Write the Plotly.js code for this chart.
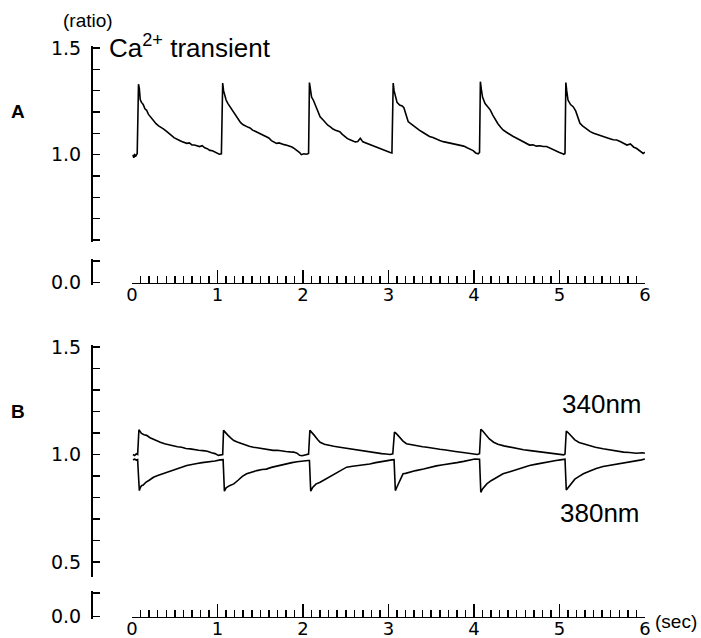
<!DOCTYPE html>
<html>
<head>
<meta charset="utf-8">
<script src="https://cdn.plot.ly/plotly-3.0.1.min.js"></script>
<style>html,body{margin:0;padding:0;background:#fff;}#chart{width:701px;height:638px;}</style>
</head>
<body>
<div id="chart"></div>
<script>
// Panel A: Ca2+ transient (ratio)
const tA = [0.01,0.02,0.03,0.045,0.06,0.075,0.085,0.095,0.11,0.13,0.15,0.17,0.19,0.21,0.23,0.25,0.28,0.31,0.34,0.37,0.40,0.43,0.46,0.49,0.52,0.55,0.58,0.61,0.64,0.67,0.70,0.73,0.76,0.79,0.82,0.85,0.88,0.91,0.94,0.97,1.00,1.02,1.045,
 1.06,1.07,1.085,1.10,1.12,1.14,1.16,1.19,1.22,1.25,1.27,1.30,1.33,1.36,1.38,1.41,1.44,1.47,1.50,1.53,1.57,1.60,1.63,1.66,1.69,1.72,1.75,1.78,1.81,1.84,1.87,1.90,1.93,1.96,1.98,2.01,2.04,2.065,
 2.075,2.085,2.10,2.12,2.14,2.17,2.20,2.23,2.26,2.29,2.32,2.35,2.38,2.41,2.43,2.46,2.49,2.52,2.55,2.58,2.61,2.64,2.67,2.70,2.73,2.76,2.79,2.82,2.85,2.88,2.91,2.94,2.97,3.00,3.02,3.04,
 3.055,3.065,3.08,3.10,3.13,3.16,3.18,3.20,3.23,3.26,3.30,3.33,3.36,3.40,3.44,3.48,3.52,3.56,3.60,3.64,3.68,3.72,3.76,3.80,3.84,3.88,3.92,3.96,3.99,4.02,4.05,4.065,
 4.075,4.085,4.10,4.13,4.16,4.19,4.22,4.25,4.28,4.31,4.34,4.38,4.42,4.46,4.50,4.54,4.58,4.62,4.65,4.69,4.73,4.77,4.81,4.85,4.89,4.93,4.97,5.00,5.03,5.05,5.065,
 5.075,5.085,5.10,5.13,5.16,5.19,5.22,5.24,5.27,5.30,5.33,5.36,5.40,5.44,5.48,5.51,5.55,5.59,5.63,5.67,5.71,5.75,5.79,5.83,5.87,5.90,5.94,5.98,6.00];
const ratioA = [1.000,0.985,1.000,0.995,1.005,1.330,1.310,1.258,1.245,1.235,1.215,1.208,1.190,1.180,1.165,1.160,1.145,1.135,1.128,1.120,1.110,1.098,1.090,1.080,1.072,1.068,1.062,1.058,1.053,1.055,1.046,1.045,1.040,1.038,1.042,1.032,1.028,1.020,1.018,1.012,1.006,1.002,1.004,
 1.336,1.300,1.270,1.256,1.240,1.228,1.210,1.195,1.180,1.158,1.150,1.140,1.132,1.128,1.125,1.115,1.110,1.104,1.100,1.092,1.085,1.078,1.066,1.060,1.053,1.055,1.050,1.047,1.044,1.040,1.036,1.028,1.020,1.010,1.000,1.004,1.002,1.006,
 1.338,1.310,1.270,1.256,1.235,1.200,1.178,1.165,1.150,1.138,1.130,1.120,1.115,1.110,1.108,1.095,1.085,1.075,1.070,1.066,1.060,1.062,1.077,1.060,1.055,1.050,1.045,1.040,1.038,1.032,1.028,1.022,1.018,1.012,1.010,1.008,
 1.336,1.300,1.270,1.245,1.233,1.228,1.220,1.190,1.155,1.145,1.132,1.124,1.115,1.105,1.095,1.085,1.080,1.072,1.066,1.061,1.058,1.054,1.050,1.048,1.045,1.040,1.032,1.025,1.019,1.008,1.004,1.010,
 1.342,1.310,1.270,1.240,1.225,1.210,1.185,1.163,1.145,1.130,1.116,1.105,1.094,1.085,1.077,1.068,1.060,1.052,1.045,1.046,1.040,1.042,1.038,1.038,1.030,1.022,1.014,1.010,1.006,1.002,1.005,
 1.338,1.300,1.256,1.235,1.225,1.205,1.170,1.147,1.135,1.125,1.115,1.108,1.100,1.094,1.088,1.085,1.080,1.075,1.070,1.069,1.062,1.052,1.045,1.050,1.035,1.030,1.020,1.006,1.012];

// Panel B: 340 nm and 380 nm fluorescence
const t340 = [0.01,0.03,0.05,0.065,0.08,0.09,0.11,0.14,0.17,0.21,0.25,0.29,0.33,0.38,0.43,0.48,0.53,0.58,0.63,0.68,0.73,0.78,0.83,0.88,0.93,0.97,1.01,1.04,1.06,
 1.07,1.09,1.12,1.16,1.19,1.23,1.27,1.32,1.37,1.42,1.47,1.52,1.58,1.65,1.70,1.75,1.80,1.85,1.89,1.93,1.96,1.99,2.03,2.065,
 2.08,2.10,2.13,2.17,2.20,2.25,2.30,2.36,2.43,2.49,2.55,2.62,2.70,2.78,2.85,2.92,2.97,3.02,3.05,
 3.07,3.09,3.13,3.17,3.21,3.27,3.33,3.40,3.45,3.52,3.60,3.67,3.72,3.78,3.85,3.92,3.99,4.04,4.065,
 4.08,4.10,4.14,4.18,4.23,4.28,4.35,4.42,4.50,4.58,4.66,4.74,4.81,4.88,4.95,5.02,5.05,5.065,
 5.08,5.10,5.14,5.18,5.23,5.28,5.34,5.42,5.51,5.58,5.66,5.75,5.82,5.90,5.97,6.00];
const f340 = [1.000,0.995,1.003,1.000,1.115,1.110,1.098,1.092,1.089,1.078,1.070,1.062,1.057,1.050,1.045,1.040,1.036,1.034,1.028,1.026,1.022,1.020,1.018,1.015,1.008,1.004,0.996,0.997,1.000,
 1.112,1.105,1.090,1.075,1.065,1.058,1.052,1.045,1.038,1.034,1.030,1.026,1.022,1.019,1.020,1.016,1.014,1.012,1.011,1.006,0.996,0.994,1.000,1.002,
 1.112,1.104,1.090,1.070,1.057,1.048,1.042,1.038,1.034,1.030,1.027,1.022,1.016,1.011,1.008,1.004,1.002,1.000,1.003,
 1.104,1.098,1.080,1.062,1.050,1.045,1.040,1.036,1.034,1.028,1.024,1.021,1.019,1.014,1.010,1.006,1.003,1.000,1.004,
 1.117,1.110,1.092,1.072,1.057,1.048,1.040,1.034,1.027,1.022,1.018,1.014,1.011,1.008,1.004,1.000,0.998,1.002,
 1.109,1.102,1.085,1.068,1.056,1.050,1.042,1.034,1.027,1.022,1.016,1.011,1.009,1.006,1.008,1.006];

const t380 = [0.01,0.03,0.05,0.065,0.075,0.085,0.095,0.11,0.13,0.16,0.20,0.25,0.30,0.35,0.41,0.47,0.53,0.58,0.64,0.70,0.76,0.82,0.87,0.92,0.97,1.03,1.065,
 1.08,1.10,1.14,1.19,1.24,1.29,1.34,1.40,1.46,1.52,1.57,1.63,1.69,1.75,1.81,1.87,1.93,1.99,2.06,2.075,
 2.09,2.11,2.15,2.20,2.25,2.30,2.35,2.40,2.45,2.51,2.58,2.65,2.72,2.78,2.85,2.91,2.97,3.04,3.065,
 3.08,3.10,3.13,3.17,3.20,3.25,3.32,3.41,3.48,3.56,3.64,3.72,3.80,3.88,3.95,4.01,4.065,
 4.08,4.10,4.15,4.20,4.26,4.34,4.42,4.50,4.58,4.65,4.73,4.81,4.89,4.96,5.01,5.065,
 5.08,5.10,5.14,5.18,5.23,5.28,5.35,5.43,5.51,5.59,5.67,5.75,5.82,5.90,5.96,6.00];
const f380 = [0.975,0.978,0.974,0.976,0.900,0.832,0.845,0.855,0.858,0.870,0.880,0.894,0.902,0.910,0.917,0.925,0.935,0.940,0.949,0.952,0.958,0.962,0.964,0.968,0.970,0.975,0.976,
 0.829,0.845,0.855,0.863,0.880,0.898,0.910,0.918,0.925,0.930,0.932,0.940,0.946,0.952,0.956,0.962,0.966,0.970,0.972,0.972,
 0.829,0.845,0.862,0.871,0.882,0.895,0.902,0.915,0.928,0.941,0.945,0.948,0.952,0.956,0.962,0.967,0.972,0.975,0.976,
 0.832,0.850,0.875,0.910,0.912,0.918,0.925,0.932,0.940,0.947,0.952,0.956,0.962,0.968,0.974,0.979,0.978,
 0.824,0.840,0.863,0.878,0.892,0.910,0.920,0.930,0.940,0.949,0.955,0.962,0.966,0.972,0.975,0.978,
 0.835,0.845,0.870,0.885,0.898,0.910,0.922,0.935,0.944,0.949,0.955,0.960,0.965,0.969,0.975,0.979];

// Axis ticks
const xMajor = [0,1,2,3,4,5,6];
const xMajorText = ['0','1','2','3','4','5','6'];
const yTicksA = [0.6,0.7,0.8,0.9,1.0,1.1,1.2,1.3,1.4,1.5];
const yTextA = ['','','','','1.0','','','','','1.5'];
const yTicksB = [0.5,0.6,0.7,0.8,0.9,1.0,1.1,1.2,1.3,1.4,1.5];
const yTextB = ['0.5','','','','','1.0','','','','','1.5'];
const yZeroTicks = [0,0.1];
const yZeroText = ['0.0',''];

const FONT = 'Liberation Sans, Arial, Helvetica, sans-serif';
const TICKFONT = 'DejaVu Sans, Liberation Sans, sans-serif';
const lineStyle = {color:'#000', width:1.6};

const traces = [
  {x:tA, y:ratioA, type:'scatter', mode:'lines', line:lineStyle, xaxis:'x', yaxis:'y', hoverinfo:'skip'},
  {x:t340, y:f340, type:'scatter', mode:'lines', line:lineStyle, xaxis:'x2', yaxis:'y3', hoverinfo:'skip'},
  {x:t380, y:f380, type:'scatter', mode:'lines', line:lineStyle, xaxis:'x2', yaxis:'y3', hoverinfo:'skip'},
  // empty traces so the broken-axis (0.0) segments are created
  {x:[], y:[], type:'scatter', mode:'lines', xaxis:'x', yaxis:'y2', hoverinfo:'skip'},
  {x:[], y:[], type:'scatter', mode:'lines', xaxis:'x2', yaxis:'y4', hoverinfo:'skip'}
];

// geometry helpers (pixel -> paper)
const L=91, R=56, T=46, B=19, W=701, H=638;
const pw = W-L-R, ph = H-T-B;
const px = v => (v-L)/pw;
const py = v => (H-B-v)/ph;

// y segment: pixel of low tick, pixel of high tick, values; padded 2px so end ticks are kept
function ySeg(pLo, pHi, vLo, vHi, vals, text, padLo){
  const k = (vHi-vLo)/(pLo-pHi); // units per px
  const lo = padLo === false ? vLo : vLo - 2*k;
  const pl = padLo === false ? pLo : pLo + 2;
  return {
    domain:[py(pl), py(pHi-2)], range:[lo, vHi+2*k], anchor:'free', position:0, side:'left',
    showline:true, linecolor:'#000', linewidth:1.5,
    showgrid:false, zeroline:false,
    tickmode:'array', tickvals:vals, ticktext:text,
    ticks:'inside', ticklen:7, tickwidth:1.5, tickcolor:'#000',
    ticklabelstandoff:6,
    tickfont:{family:TICKFONT, size:19, color:'#000'},
    fixedrange:true
  };
}
function xAx(posPx){
  return {
    domain:[px(132),1], range:[-0.001,6.001], anchor:'free', position:py(posPx),
    showline:true, linecolor:'#000', linewidth:1.5,
    showgrid:false, zeroline:false,
    tickmode:'array', tickvals:xMajor, ticktext:xMajorText,
    ticks:'inside', ticklen:13, tickwidth:1.5, tickcolor:'#000',
    ticklabelstandoff:-5,
    tickfont:{family:TICKFONT, size:18, color:'#000'},
    minor:{dtick:0.1, tick0:0, ticks:'inside', ticklen:7, tickwidth:1.5, tickcolor:'#000', showgrid:false},
    fixedrange:true
  };
}

const ann = (text, x, y, size, opts={}) => Object.assign({
  text:text, xref:'paper', yref:'paper', x:px(x), y:py(y), showarrow:false,
  font:{family:FONT, size:size, color:'#000'}, xanchor:'center', yanchor:'middle'
}, opts);

const layout = {
  width:W, height:H,
  margin:{l:L, r:R, t:T, b:B, pad:0},
  paper_bgcolor:'#fff', plot_bgcolor:'#fff',
  showlegend:false,
  xaxis:xAx(282.5),
  xaxis2:Object.assign(xAx(616.5), {matches:'x'}),
  yaxis:ySeg(240, 48, 0.6, 1.5, yTicksA, yTextA),
  yaxis2:ySeg(282.5, 261, 0, 0.1, yZeroTicks, yZeroText),
  yaxis3:ySeg(577, 347, 0.43, 1.5, yTicksB, yTextB, false),
  yaxis4:ySeg(616.5, 593, 0, 0.1, yZeroTicks, yZeroText),
  annotations:[
    ann('(ratio)', 88, 21, 19),
    ann('<b>A</b>', 18, 111, 19),
    ann('<b>B</b>', 18, 411, 19),
    ann('Ca<sup>2+</sup> transient', 107, 46, 26, {xanchor:'left'}),
    ann('340nm', 602, 404, 26),
    ann('380nm', 600, 513, 26),
    ann('(sec)', 676, 621, 19)
  ]
};

Plotly.newPlot('chart', traces, layout, {staticPlot:true, displayModeBar:false});
</script>
</body>
</html>
